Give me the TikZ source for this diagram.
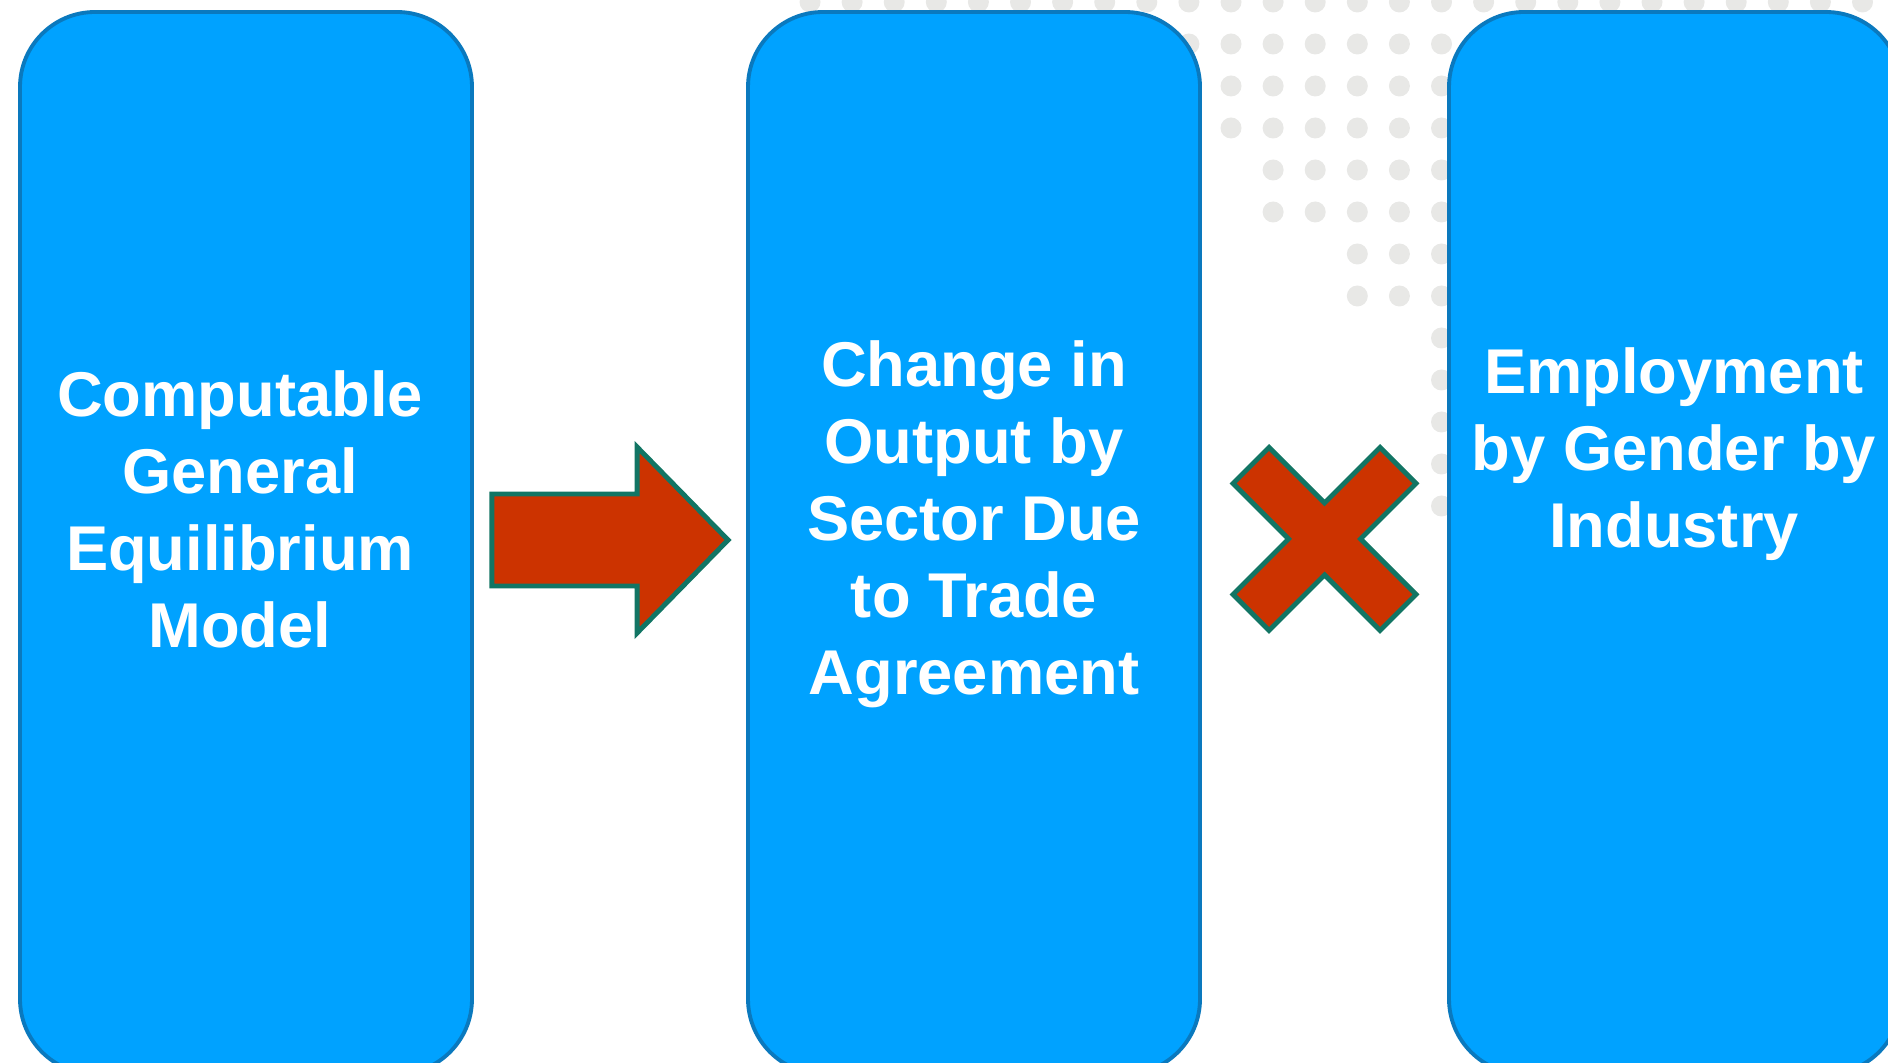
\documentclass[tikz,border=0pt]{standalone}
\usepackage{fontspec}
\setmainfont{Liberation Sans}
\usetikzlibrary{calc}
\definecolor{stagefill}{RGB}{0,162,255}
\definecolor{stageline}{RGB}{10,121,190}
\definecolor{markfill}{RGB}{204,51,0}
\definecolor{markline}{RGB}{18,117,100}
\definecolor{dotgray}{RGB}{232,232,230}
\tikzset{
  stage/.style ={draw=stageline, fill=stagefill, line width=1.1pt, rounded corners=0.75cm,
                 minimum width=4.52cm, minimum height=10.62cm, inner sep=0pt},
  lab/.style   ={text=white, font=\fontsize{18pt}{21.9pt}\selectfont\bfseries, align=center, inner sep=0pt},
  blk/.style   ={draw=markline, fill=markfill, line width=1.4pt, line join=miter},
  bgdot/.style ={fill=dotgray},
}

\begin{document}
\begin{tikzpicture}
  \useasboundingbox (0,0) rectangle (18.88,10.62);
  \clip (0,0) rectangle (18.88,10.62);
  % dot grid behind the boxes
  \foreach \c in {0,...,25}
    \fill[bgdot] (8.10+0.421*\c,10.60) circle (0.105);
  \foreach \r/\first in {1/9,2/10,3/10,4/11,5/11,6/13,7/13,8/15,9/15,10/15,11/15,12/15}
    \foreach \c in {\first,...,15}
      \fill[bgdot] (8.10+0.421*\c,10.60-0.42*\r) circle (0.105);
  % the three stages
  \node[stage] (cge)    at (2.46,5.19)  {};
  \node[stage] (output) at (9.74,5.19)  {};
  \node[stage] (employ) at (16.75,5.19) {};
  \node[lab] (cgetxt)    at (2.40,5.525) {Computable\\General\\Equilibrium\\Model};
  \node[lab] (outputtxt) at (9.74,5.38)  {Change in\\Output by\\Sector Due\\to Trade\\Agreement};
  \node[lab] (employtxt) at (16.74,6.08) {Employment\\by Gender by\\Industry};
  % block arrow cge -> output
  \coordinate (a0) at ([xshift=0.18cm,yshift=0.03cm]cge.east);
  \coordinate (a1) at ([xshift=-0.18cm,yshift=0.03cm]output.west);
  \draw[blk] ($(a0)+(0,0.46)$) -- ($(a1)+(-0.91,0.46)$) -- ($(a1)+(-0.91,0.93)$) -- (a1)
    -- ($(a1)+(-0.91,-0.93)$) -- ($(a1)+(-0.91,-0.46)$) -- ($(a0)+(0,-0.46)$) -- cycle;
  % cross between output and employ
  \coordinate (nox) at ($(output.east)!0.5!(employ.west)+(0,0.04)$);
  \draw[blk,shift={(nox)}] (0,0.36) -- (0.555,0.915) -- (0.915,0.555) -- (0.36,0)
    -- (0.915,-0.555) -- (0.555,-0.915) -- (0,-0.36) -- (-0.555,-0.915)
    -- (-0.915,-0.555) -- (-0.36,0) -- (-0.915,0.555) -- (-0.555,0.915) -- cycle;
\end{tikzpicture}
\end{document}
